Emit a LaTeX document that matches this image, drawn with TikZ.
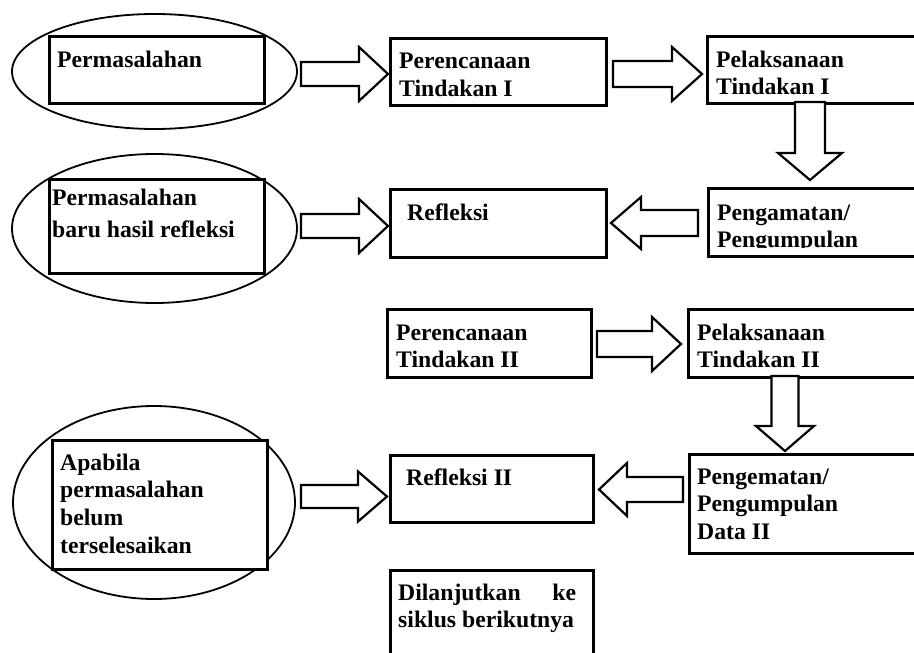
\documentclass[tikz,border=0pt]{standalone}
\usepackage{fontspec}
\setmainfont{Liberation Serif}
\usetikzlibrary{shapes.geometric,calc}
\tikzset{
  oval/.style={ellipse,draw,line width=1.8pt,inner sep=0pt},
  box/.style={rectangle,draw,line width=2.6pt,fill=white,inner sep=0pt,anchor=north west},
  lbl/.style={anchor=base west,inner sep=0pt,font=\fontsize{23.7}{28}\selectfont\bfseries},
  barrow/.style={draw,line width=2.2pt,fill=white,line join=miter},
}
% horizontal block arrow: #1 start, #2 tip, #3 head length (signed), #4 shaft half width, #5 head half width
\newcommand\harr[5]{\draw[barrow] let \p1=(#1),\p2=(#2) in
  (\x1,\y2+#4pt) -- ({\x2-(#3)*1pt},\y2+#4pt) -- ({\x2-(#3)*1pt},\y2+#5pt) -- (\x2,\y2)
  -- ({\x2-(#3)*1pt},\y2-#5pt) -- ({\x2-(#3)*1pt},\y2-#4pt) -- (\x1,\y2-#4pt) -- cycle;}
% downward block arrow
\newcommand\varr[5]{\draw[barrow] let \p1=(#1),\p2=(#2) in
  (\x2-#4pt,\y1) -- (\x2-#4pt,{\y2+#3pt}) -- (\x2-#5pt,{\y2+#3pt}) -- (\x2,\y2)
  -- (\x2+#5pt,{\y2+#3pt}) -- (\x2+#4pt,{\y2+#3pt}) -- (\x2+#4pt,\y1) -- cycle;}
\begin{document}
\begin{tikzpicture}[x=1pt,y=-1pt]
\useasboundingbox (0,0) rectangle (914,653);
\clip (0,0) rectangle (914,653);

% ovals
\node[oval,minimum width=285pt,minimum height=115pt] (e1) at (154.5,71.5) {};
\node[oval,minimum width=285pt,minimum height=149pt] (e2) at (154.5,228.5) {};
\node[oval,minimum width=282pt,minimum height=193pt] (e3) at (154,502.5) {};

% boxes
\node[box,minimum width=215pt,minimum height=67pt] (r1) at (48,35) {};
\node[box,minimum width=215pt,minimum height=94pt] (r2) at (48,178) {};
\node[box,minimum width=215pt,minimum height=129pt] (r3) at (51,439) {};
\node[box,minimum width=216pt,minimum height=67pt] (p1) at (389,37) {};
\node[box,minimum width=230pt,minimum height=67pt] (l1) at (706,35) {};
\node[box,minimum width=216pt,minimum height=68pt] (f1) at (389,188) {};
\node[box,minimum width=230pt,minimum height=68pt] (o1) at (707,187) {};
\node[box,minimum width=204pt,minimum height=68pt] (p2) at (386,308) {};
\node[box,minimum width=240pt,minimum height=68pt] (l2) at (687,308) {};
\node[box,minimum width=203pt,minimum height=67pt] (f2) at (389,454) {};
\node[box,minimum width=240pt,minimum height=99pt] (o2) at (688,453) {};
\node[box,minimum width=203pt,minimum height=110pt] (d) at (389,569) {};

% arrow end points
\coordinate (a1s) at (301,74);   \coordinate (a1t) at (388,74);
\coordinate (a2s) at (613,74);   \coordinate (a2t) at (702,74);
\coordinate (a3s) at (810,102);  \coordinate (a3t) at (810,180);
\coordinate (a4s) at (698,223);  \coordinate (a4t) at (611,223);
\coordinate (a5s) at (301,226);  \coordinate (a5t) at (388,226);
\coordinate (a6s) at (597,344);  \coordinate (a6t) at (681,344);
\coordinate (a7s) at (785,376);  \coordinate (a7t) at (785,451);
\coordinate (a8s) at (683,489.5);\coordinate (a8t) at (599,489.5);
\coordinate (a9s) at (301,496.5);\coordinate (a9t) at (387,496.5);

\harr{a1s}{a1t}{29}{12}{27}
\harr{a2s}{a2t}{30}{13}{27}
\varr{a3s}{a3t}{27}{15}{32}
\harr{a4s}{a4t}{-30}{13}{26}
\harr{a5s}{a5t}{29}{12}{27}
\harr{a6s}{a6t}{29}{13}{27}
\varr{a7s}{a7t}{25}{13.5}{29}
\harr{a8s}{a8t}{-28}{12.5}{26.5}
\harr{a9s}{a9t}{29}{11.5}{25}

% texts
\node[lbl] (t1) at (57,67) {Permasalahan};
\node[lbl] (t2a) at (52,205) {Permasalahan};
\node[lbl] (t2b) at (52,237) {baru hasil refleksi};
\node[lbl] (t3a) at (60,470) {Apabila};
\node[lbl] (t3b) at (60,497) {permasalahan};
\node[lbl] (t3c) at (60,525) {belum};
\node[lbl] (t3d) at (60,553) {terselesaikan};
\node[lbl] (tp1a) at (399,68) {Perencanaan};
\node[lbl] (tp1b) at (399,96) {Tindakan I};
\node[lbl] (tl1a) at (716,67) {Pelaksanaan};
\node[lbl] (tl1b) at (716,94) {Tindakan I};
\node[lbl] (tf1) at (407,220) {Refleksi};
\node[lbl] (to1a) at (717,220) {Pengamatan/};
\begin{scope}
  \clip (700,200) rectangle (914,247.5);
  \node[lbl] (to1b) at (717,247) {Pengumpulan};
\end{scope}
\node[lbl] (tp2a) at (396,340) {Perencanaan};
\node[lbl] (tl2a) at (697,340) {Pelaksanaan};
\begin{scope}
  \clip (380,320) rectangle (914,368);
  \node[lbl] (tp2b) at (396,367.5) {Tindakan II};
  \node[lbl] (tl2b) at (697,367.5) {Tindakan II};
\end{scope}
\node[lbl] (tf2) at (406,485) {Refleksi II};
\node[lbl] (to2a) at (697,484) {Pengematan/};
\node[lbl] (to2b) at (697,511) {Pengumpulan};
\node[lbl] (to2c) at (697,539) {Data II};
\node[lbl] (td1) at (398,600) {\makebox[178pt][l]{Dilanjutkan\hfill ke}};
\node[lbl] (td2) at (398,627) {siklus berikutnya};
\end{tikzpicture}
\end{document}
